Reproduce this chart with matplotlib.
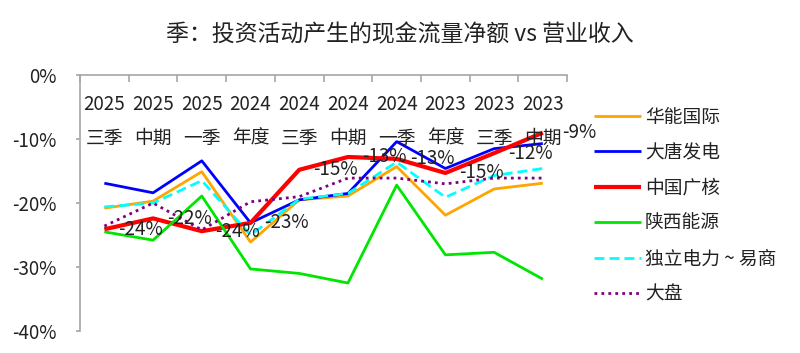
import matplotlib
matplotlib.use("Agg")
import matplotlib.pyplot as plt
import matplotlib.transforms as mtransforms

plt.rcParams['font.family'] = ['Noto Sans CJK SC', 'DejaVu Sans']

years = ["2025", "2025", "2025", "2024", "2024", "2024", "2024", "2023", "2023", "2023"]
periods = ["三季", "中期", "一季", "年度", "三季", "中期", "一季", "年度", "三季", "中期"]

huaneng = [-20.8, -19.7, -15.1, -26.1, -19.5, -18.9, -14.3, -21.9, -17.8, -16.9]
datang = [-16.9, -18.4, -13.4, -23.1, -19.5, -18.5, -10.4, -14.6, -11.5, -10.7]
cgn = [-24.1, -22.4, -24.4, -23.1, -14.8, -12.8, -13.1, -15.3, -12.2, -9.0]
shaanxi = [-24.5, -25.8, -18.9, -30.3, -31.0, -32.5, -17.2, -28.1, -27.7, -31.9]
indep = [-20.6, -20.0, -16.5, -25.0, -19.4, -18.5, -13.6, -19.1, -15.7, -14.6]
market = [-23.6, -20.0, -24.2, -19.8, -19.0, -16.1, -16.1, -17.0, -16.1, -16.1]

series = [
    ("华能国际", huaneng, dict(color="#FFA500", lw=2.0, ls="-")),
    ("大唐发电", datang, dict(color="#0000FF", lw=2.0, ls="-")),
    ("中国广核", cgn, dict(color="#FF0000", lw=3.0, ls="-")),
    ("陕西能源", shaanxi, dict(color="#00E600", lw=2.0, ls="-")),
    ("独立电力 ~ 易商", indep, dict(color="#00FFFF", lw=2.0, ls=(0, (3.6, 1.8)))),
    ("大盘", market, dict(color="#800080", lw=2.0, ls=(0, (1, 1.5)))),
]

yticks = [0, -10, -20, -30, -40]
FS = 13.5
GRAY = "#A6A6A6"
TXT = "#222222"

fig = plt.figure(figsize=(8.0, 3.53), dpi=100)
ax = fig.add_axes([0.1, 0.0623, 0.609, 0.725])

x = list(range(len(years)))
for name, vals, st in series:
    ax.plot(x, vals, label=name, solid_capstyle="butt", dash_capstyle="butt", **st)

# data labels on 中国广核
offset = mtransforms.offset_copy(ax.transData, fig=fig, x=36, y=0, units="dots")
for xi, v in zip(x, cgn):
    ax.text(xi, v, f"{v:.0f}%", transform=offset, ha="center", va="center",
            fontsize=FS, color=TXT, zorder=5)

ax.set_xlim(-0.5, len(years) - 0.5)
ax.set_ylim(-40, 0)

# category labels below the top axis line
blend = mtransforms.blended_transform_factory(ax.transData, ax.transAxes)
for xi, yr, pr in zip(x, years, periods):
    ax.text(xi, 0.887, yr, transform=blend, ha="center", va="center", fontsize=FS, color=TXT, zorder=6)
    ax.text(xi, 0.754, pr, transform=blend, ha="center", va="center", fontsize=FS, color=TXT, zorder=6)

ax.xaxis.tick_top()
ax.set_xticks([i - 0.5 for i in range(len(years) + 1)])
ax.set_xticklabels([])
ax.tick_params(axis="x", direction="in", length=5, width=1.2, color=GRAY)

ax.set_yticks(yticks)
ax.set_yticklabels([f"{t}%" for t in yticks])
ax.tick_params(axis="y", direction="out", length=3, width=1.2, color=GRAY,
               labelsize=FS, labelcolor=TXT, pad=14)

for s in ["bottom", "right"]:
    ax.spines[s].set_visible(False)
for s in ["top", "left"]:
    ax.spines[s].set_color(GRAY)
    ax.spines[s].set_linewidth(1.2)

fig.legend(loc="upper left", bbox_to_anchor=(0.743, 0.698), frameon=False,
           fontsize=FS, handlelength=2.5, handletextpad=0.2, labelspacing=0.77,
           borderpad=0, borderaxespad=0, labelcolor=TXT)

fig.suptitle("季：投资活动产生的现金流量净额 vs 营业收入", fontsize=16.5, y=0.935, color=TXT)

fig.savefig("out.png", dpi=100)
